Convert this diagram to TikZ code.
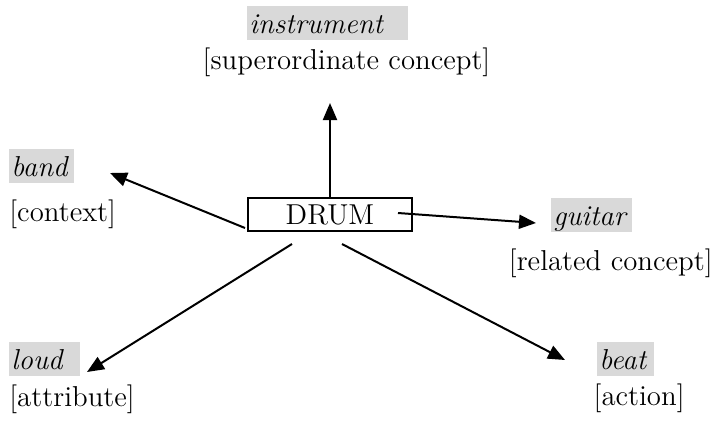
\documentclass[tikz,border=0pt]{standalone}
\usepackage{amsmath}
\usepackage{tikz}
\usetikzlibrary{arrows.meta}

\begin{document}
\begin{tikzpicture}[x=0.5pt,y=-0.5pt,
	every node/.style={font=\fontsize{14.4pt}{17pt}\selectfont},
	hl_node/.style={fill=gray!30,inner xsep=1pt,inner ysep=0pt,text height=13.5pt,text depth=3.5pt,align=left,anchor=base west,font=\fontsize{14.4pt}{17pt}\selectfont\itshape},
	role_node/.style={inner sep=0pt},
	drum_node/.style={draw,line width=1pt,minimum width=82pt,minimum height=16.5pt,inner sep=0pt},
	arrow_line/.style={line width=1pt,-{Triangle[length=8.5pt,width=7pt]}}]
	\useasboundingbox (0,0) rectangle (714,424);

	\node[drum_node] (drum) at (330,214.5) {DRUM};

	\node[hl_node,text width=78.5pt] (instrument) at (247,33) {instrument};
	\node[role_node,anchor=base] (super) at (346.5,69) {[superordinate concept]};
	\node[hl_node,text width=30.5pt] (band) at (9,176) {band};
	\node[role_node,anchor=base west] (context) at (9,221) {[context]};
	\node[hl_node,text width=38.5pt] (guitar) at (551,225) {guitar};
	\node[role_node,anchor=base east] (related) at (713,270) {[related concept]};
	\node[hl_node,text width=33.5pt] (loud) at (9,369) {loud};
	\node[role_node,anchor=base west] (attribute) at (9,406) {[attribute]};
	\node[hl_node,text width=26.5pt] (beat) at (597,369) {beat};
	\node[role_node,anchor=base east] (action) at (685,405) {[action]};

	\coordinate (super_tip) at (330,103);
	\coordinate (band_start) at (245,228);
	\coordinate (band_tip) at (110,173);
	\coordinate (guitar_start) at (398,213);
	\coordinate (guitar_tip) at (536,223);
	\coordinate (loud_start) at (292,244);
	\coordinate (loud_tip) at (87,372);
	\coordinate (beat_start) at (342,244);
	\coordinate (beat_tip) at (565,360);

	\draw[arrow_line] (drum.north) -- (super_tip);
	\draw[arrow_line] (band_start) -- (band_tip);
	\draw[arrow_line] (guitar_start) -- (guitar_tip);
	\draw[arrow_line] (loud_start) -- (loud_tip);
	\draw[arrow_line] (beat_start) -- (beat_tip);
\end{tikzpicture}
\end{document}
